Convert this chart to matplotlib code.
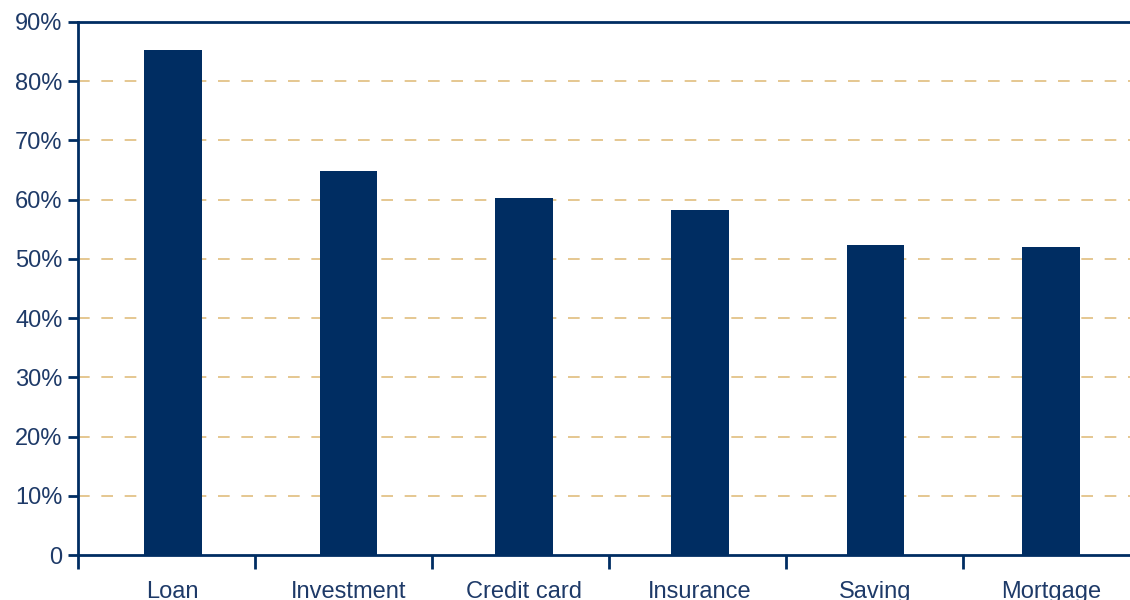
import matplotlib.pyplot as plt
from matplotlib.ticker import FixedLocator

categories = ["Loan", "Investment", "Credit card", "Insurance", "Saving", "Mortgage"]
values = [85.3, 64.8, 60.3, 58.3, 52.3, 52.0]
ytick_vals = [0, 10, 20, 30, 40, 50, 60, 70, 80, 90]
ytick_labels = ["0", "10%", "20%", "30%", "40%", "50%", "60%", "70%", "80%", "90%"]

navy = "#002D62"
grid_col = "#E0BD7E"
text_col = "#1E3A68"

plt.rcParams['font.family'] = ['Liberation Sans', 'DejaVu Sans']

fig = plt.figure(figsize=(11.3, 6), dpi=100)
ax = fig.add_axes([78 / 1130, 45 / 600, (1146 - 78) / 1130, 533 / 600])

x = list(range(len(categories)))
ax.bar(x, values, width=0.33, color=navy, zorder=3)

ax.set_xlim(-0.54, 5.54)
ax.set_ylim(0, 90)

for v in ytick_vals[1:-1]:
    ax.axhline(v, color=grid_col, lw=1.2, dashes=(7, 7), zorder=1)

ax.set_yticks(ytick_vals)
ax.set_yticklabels(ytick_labels)
ax.set_xticks(x)
ax.set_xticklabels(categories)
ax.xaxis.set_minor_locator(FixedLocator([-0.54, 0.467, 1.475, 2.483, 3.49, 4.5]))

ax.tick_params(axis='y', direction='out', length=7, width=2, color=navy,
               labelsize=17, labelcolor=text_col, pad=4)
ax.tick_params(axis='x', which='major', length=0, labelsize=17,
               labelcolor=text_col, pad=19)
ax.tick_params(axis='x', which='minor', direction='out', length=10, width=2, color=navy)

for s in ['left', 'bottom', 'top', 'right']:
    ax.spines[s].set_color(navy)
    ax.spines[s].set_linewidth(2)

fig.savefig("out.png", dpi=100)
